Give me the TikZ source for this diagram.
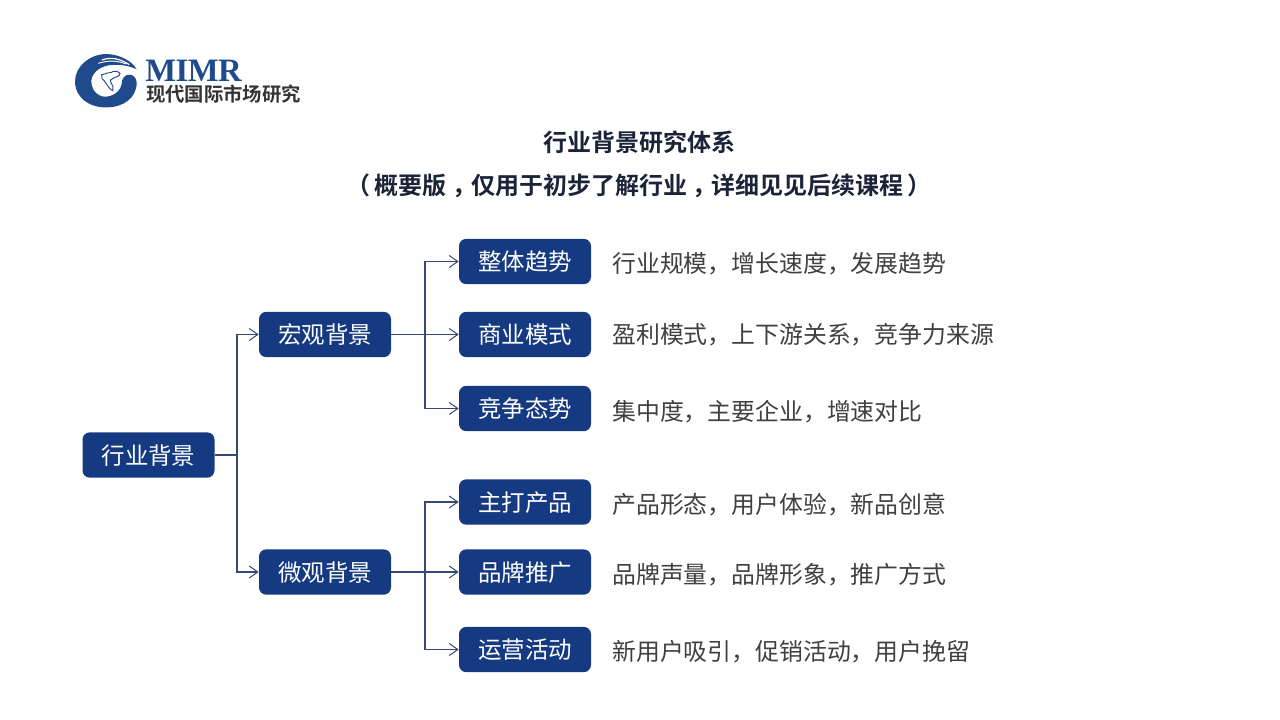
\documentclass[tikz,border=0pt]{standalone}
\usepackage{fontspec}
\setmainfont{Liberation Serif}
\newfontfamily\cjk{Noto Sans CJK SC}
\newfontfamily\cjkb{Noto Sans CJK SC Bold}
\usetikzlibrary{arrows.meta}
\definecolor{navy}{HTML}{153A82}
\definecolor{linec}{HTML}{33497A}
\definecolor{logob}{HTML}{1F4A8C}
\definecolor{titlec}{HTML}{1B2338}
\definecolor{descc}{HTML}{404040}
\tikzset{
  boxn/.style={fill=navy,rounded corners=5.5pt,minimum width=99pt,minimum height=34pt,inner sep=0pt,text=white,text height=16pt,text depth=2pt,font=\cjk\fontsize{17.6}{20}\selectfont},
  descn/.style={anchor=west,inner sep=0pt,text=descc,font=\cjk\fontsize{17.9}{20}\selectfont},
  titlen/.style={inner sep=0pt,text=titlec,font=\cjkb\fontsize{18}{22}\selectfont},
  conn/.style={draw=linec,line width=0.8pt,-{Straight Barb[length=6.5pt,width=9pt,line width=0.75pt]}},
  connp/.style={draw=linec,line width=0.8pt},
}
\begin{document}
\begin{tikzpicture}[x=0.75pt,y=-0.75pt]
\useasboundingbox (0,0) rectangle (1280,720);
\fill[white] (0,0) rectangle (1280,720);
% logo, drawn in the coordinates of a 3x crop
\begin{scope}[shift={(70,48)},x=0.25pt,y=-0.25pt]
\fill[logob] (200,64) .. controls (185,38) and (150,20) .. (110,18)
  .. controls (60,18) and (15,55) .. (15,100)
  .. controls (15,150) and (60,180) .. (110,178)
  .. controls (160,178) and (200,150) .. (200,104)
  .. controls (200,90) and (190,80) .. (178,80)
  .. controls (164,80) and (155,92) .. (155,108)
  .. controls (150,132) and (128,146) .. (105,146)
  .. controls (82,146) and (64,125) .. (64,100)
  .. controls (64,78) and (85,58) .. (115,52)
  .. controls (145,48) and (175,52) .. (200,64) -- cycle;
\draw[white,line width=0.9pt] (95,36) .. controls (125,26) and (150,32) .. (178,50);
\draw[white,line width=0.7pt] (85,46) .. controls (115,36) and (145,38) .. (168,48);
\draw[logob,line width=0.7pt] (95,80) .. controls (105,82) and (110,72) .. (122,74)
  .. controls (132,68) and (142,68) .. (150,76)
  .. controls (150,88) and (135,84) .. (122,96)
  .. controls (118,104) and (134,112) .. (128,128)
  .. controls (118,124) and (110,108) .. (104,100)
  .. controls (98,96) and (92,88) .. (95,80) -- cycle;
\end{scope}
\node[inner sep=0pt,anchor=west,text=logob,font=\bfseries\fontsize{24.5}{24}\selectfont] (mimr) at (145,71) {\addfontfeature{LetterSpace=-1.5}MIMR};
\node[inner sep=0pt,anchor=west,text=black!80,font=\cjkb\fontsize{14.5}{16}\selectfont] (cn) at (146,94) {现代国际市场研究};
% titles
\node[titlen] (t1) at (639,142) {行业背景研究体系};
\node[titlen] (t2) at (639,186) {（\kern3.5pt 概要版\kern4pt ，\kern-4pt 仅用于初步了解行业\kern4pt ，\kern-4pt 详细见见后续课程\kern3.5pt ）};
% boxes
\node[boxn] (root) at (148.5,455) {行业背景};
\node[boxn] (macro) at (325,334.5) {宏观背景};
\node[boxn] (micro) at (325,572) {微观背景};
\node[boxn] (a1) at (525,261.5) {整体趋势};
\node[boxn] (a2) at (525,334.5) {商业模式};
\node[boxn] (a3) at (525,408.5) {竞争态势};
\node[boxn] (b1) at (525,502) {主打产品};
\node[boxn] (b2) at (525,572) {品牌推广};
\node[boxn] (b3) at (525,649.5) {运营活动};
% descriptions
\node[descn] (d1) at (612,264) {行业规模，增长速度，发展趋势};
\node[descn] (d2) at (612,335) {盈利模式，上下游关系，竞争力来源};
\node[descn] (d3) at (612,412) {集中度，主要企业，增速对比};
\node[descn] (d4) at (612,505) {产品形态，用户体验，新品创意};
\node[descn] (d5) at (612,575) {品牌声量，品牌形象，推广方式};
\node[descn] (d6) at (612,652) {新用户吸引，促销活动，用户挽留};
% bus coordinates
\coordinate (busr) at (237,455);
\coordinate (busa) at (425,334.5);
\coordinate (busb) at (425,572);
% connectors
\draw[connp] (root.east) -- (busr);
\draw[conn] (busr) |- (macro.west);
\draw[conn] (busr) |- (micro.west);
\draw[conn] (macro.east) -- (a2.west);
\draw[conn] (busa) |- (a1.west);
\draw[conn] (busa) |- (a3.west);
\draw[conn] (micro.east) -- (b2.west);
\draw[conn] (busb) |- (b1.west);
\draw[conn] (busb) |- (b3.west);
\end{tikzpicture}
\end{document}
